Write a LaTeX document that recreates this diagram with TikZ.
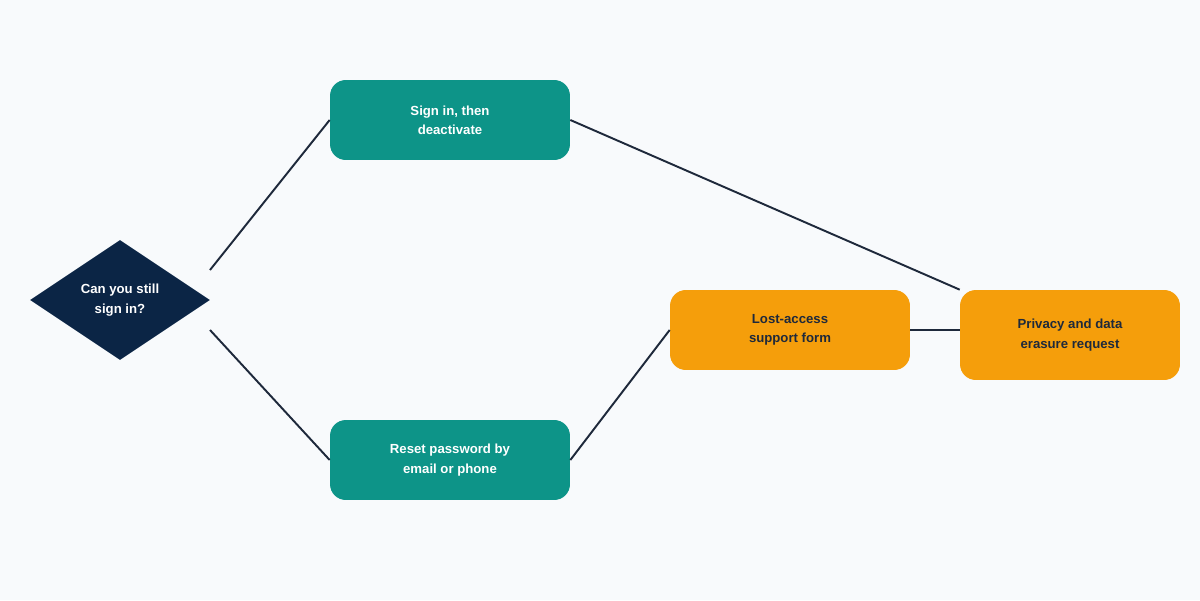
\documentclass[tikz,border=0pt]{standalone}
\usepackage{fontspec}
\setmainfont{Liberation Sans}
\usetikzlibrary{shapes.geometric}
\definecolor{bgcol}{HTML}{F8FAFC}
\definecolor{navy}{HTML}{0B2545}
\definecolor{teal}{HTML}{0D9488}
\definecolor{amber}{HTML}{F59E0B}
\definecolor{linecol}{HTML}{1E293B}
\tikzset{
  stepbox/.style={rectangle, rounded corners=9pt, minimum width=4.8cm, minimum height=1.6cm,
    align=center, font=\bfseries\fontsize{7.5}{11}\selectfont, inner sep=0pt},
  good/.style={stepbox, fill=teal, text=white},
  help/.style={stepbox, fill=amber, text=linecol},
  link/.style={draw=linecol, line width=1.1pt}
}
\begin{document}
\begin{tikzpicture}[x=0.02cm, y=0.02cm]
	\fill[bgcol] (0,0) rectangle (1200,600);
	\useasboundingbox (0,0) rectangle (1200,600);

	\node[diamond, fill=navy, text=white, minimum width=3.6cm, minimum height=2.4cm, inner sep=0pt,
	  align=center, font=\bfseries\fontsize{7.5}{11}\selectfont] (ask) at (120,300) {Can you still\\sign in?};
	\node[good] (signin) at (450,480) {Sign in, then\\deactivate};
	\node[good] (reset) at (450,140) {Reset password by\\email or phone};
	\node[help] (lost) at (790,270) {Lost-access\\support form};
	\node[help, minimum width=4.4cm, minimum height=1.8cm] (privacy) at (1070,265) {Privacy and data\\erasure request};

	\coordinate (askup) at (210,330);
	\coordinate (askdown) at (210,270);

	\draw[link] (askup) -- (signin.west);
	\draw[link] (askdown) -- (reset.west);
	\draw[link] (reset.east) -- (lost.west);
	\draw[link] (signin.east) -- (privacy.north west);
	\draw[link] (lost.east) -- (privacy.west |- lost.east);
\end{tikzpicture}
\end{document}
